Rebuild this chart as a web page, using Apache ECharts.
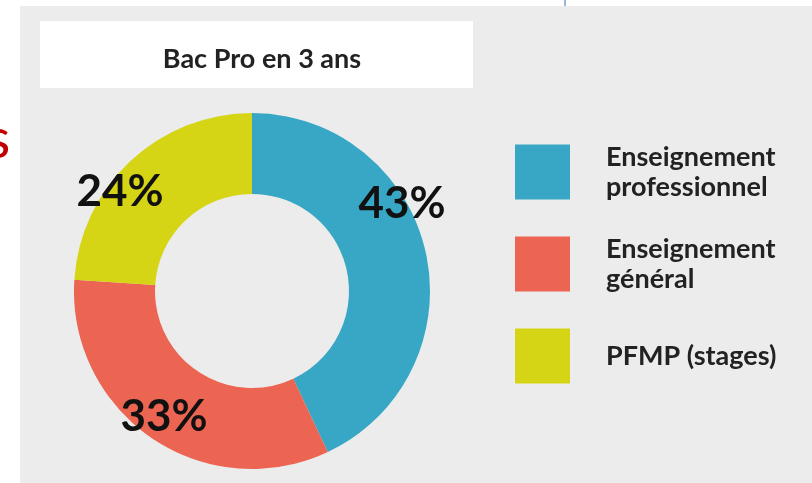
<!DOCTYPE html>
<html>
<head>
<meta charset="utf-8">
<script src="https://cdn.jsdelivr.net/npm/echarts@6/dist/echarts.min.js"></script>
<style>
html,body{margin:0;padding:0;background:#fff;}
#main{width:812px;height:483px;}
</style>
</head>
<body>
<div id="main"></div>
<script>
// données du graphique
var titre = 'Bac Pro en 3 ans';
var categories = ['Enseignement\nprofessionnel', 'Enseignement\ngénéral', 'PFMP (stages)'];
var valeurs = [43, 33, 24];
var couleurs = ['#37a7c5', '#ec6552', '#d5d515'];

// position des étiquettes (px)
var posEtiquettes = [[402, 204], [164, 417], [120, 192]];

var myChart = echarts.init(document.getElementById('main'));

var dataPie = [];
for (var i = 0; i < categories.length; i++) {
    dataPie.push({name: categories[i], value: valeurs[i], itemStyle: {color: couleurs[i]}});
}

var legendData = categories.map(function (c, i) {
    if (i == categories.length - 1) {//une seule ligne : texte un peu plus haut
        return {name: c, textStyle: {padding: [6, 0, 24, 31]}};
    }
    return {name: c};
});

var option = {
    backgroundColor: '#ffffff',
    animation: false,
    graphic: [
        {type: 'rect', left: 20, top: 6, shape: {width: 792, height: 477}, style: {fill: '#ececec'}, z: -10},
        {type: 'line', shape: {x1: 565, y1: 0, x2: 565, y2: 6}, style: {stroke: '#7b9bcc', lineWidth: 1.5}},
        {type: 'rect', left: 40, top: 21, shape: {width: 433, height: 67}, style: {fill: '#ffffff'}, z: -5},
        {type: 'text', left: -14, top: 112, style: {text: 's', fill: '#c00000', font: '56px Lato'}}
    ],
    title: {
        text: titre,
        left: 257,
        top: 41,
        textAlign: 'center',
        textStyle: {fontFamily: 'Lato', fontWeight: 'bold', fontSize: 27, color: '#222'}
    },
    legend: {
        orient: 'vertical',
        left: 510,
        top: 137,
        icon: 'rect',
        itemWidth: 55,
        itemHeight: 55,
        itemGap: 32,
        selectedMode: false,
        data: legendData,
        textStyle: {
            fontFamily: 'Lato', fontWeight: 'bold', fontSize: 27, lineHeight: 30,
            color: '#222', padding: [0, 0, 0, 31]
        }
    },
    series: [
        {
            type: 'pie',
            center: [252, 291],
            radius: [97, 178],
            startAngle: 90,
            clockwise: true,
            data: dataPie,
            label: {
                show: true,
                formatter: '{c}%',
                fontFamily: 'Lato',
                fontWeight: 'bold',
                fontSize: 44,
                color: '#111',
                overflow: 'none'
            },
            labelLine: {show: false},
            labelLayout: function (params) {
                var p = posEtiquettes[params.dataIndex];
                return {x: p[0], y: p[1], align: 'center', verticalAlign: 'middle'};
            },
            emphasis: {disabled: true}
        }
    ]
};
myChart.setOption(option);
</script>
</body>
</html>
